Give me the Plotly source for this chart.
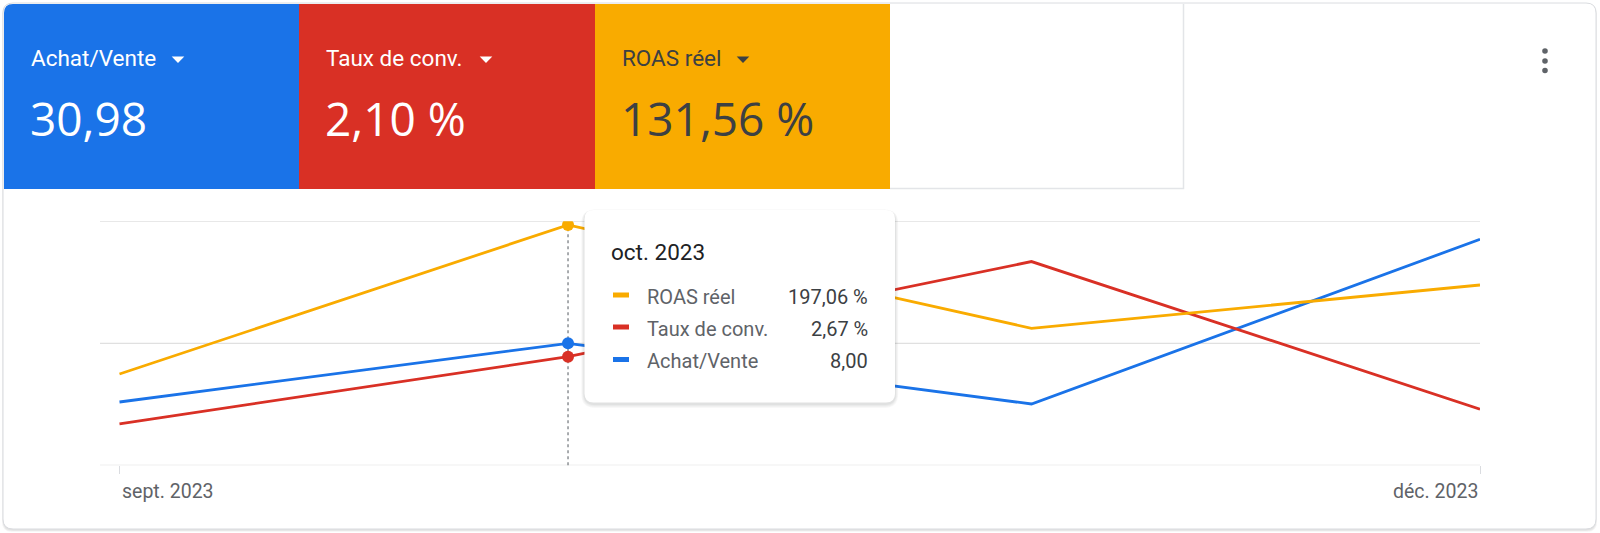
import plotly.graph_objects as go
from datetime import datetime, timedelta

W, H = 1600, 533

# ---------------- data ----------------
months = ["2023-09-01", "2023-10-01", "2023-11-01", "2023-12-01"]
month_labels = ["sept. 2023", "oct. 2023", "nov. 2023", "déc. 2023"]
roas_reel = [74.8, 197.06, 112.3, 147.8]        # %
taux_conv = [1.02, 2.67, 5.01, 1.38]            # %
achat_vente = [4.15, 8.00, 4.02, 14.82]
grid_vals = [0, 8, 16]                          # on the Achat/Vente scale

kpi_names = ["Achat/Vente", "Taux de conv.", "ROAS réel"]
kpi_values = ["30,98", "2,10 %", "131,56 %"]
tooltip_names = ["ROAS réel", "Taux de conv.", "Achat/Vente"]
tooltip_values = ["197,06 %", "2,67 %", "8,00"]
hover_index = 1

# ---------------- style ----------------
BLUE = "#1a73e8"
RED = "#d93025"
YELLOW = "#f9ab00"
GRID = "#e0e0e0"
GREY_TXT = "#5f6368"
DARK_TXT = "#3c4043"


def P(x, y):
    return f"{x / W:.6f},{1 - y / H:.6f}"


def rr(x0, y0, x1, y1, r, tl=True, tr=True, br=True, bl=True):
    s = ["M" + P(x0 + (r if tl else 0), y0)]
    if tr:
        s += ["L" + P(x1 - r, y0), "Q" + P(x1, y0) + " " + P(x1, y0 + r)]
    else:
        s.append("L" + P(x1, y0))
    if br:
        s += ["L" + P(x1, y1 - r), "Q" + P(x1, y1) + " " + P(x1 - r, y1)]
    else:
        s.append("L" + P(x1, y1))
    if bl:
        s += ["L" + P(x0 + r, y1), "Q" + P(x0, y1) + " " + P(x0, y1 - r)]
    else:
        s.append("L" + P(x0, y1))
    if tl:
        s += ["L" + P(x0, y0 + r), "Q" + P(x0, y0) + " " + P(x0 + r, y0)]
    else:
        s.append("L" + P(x0, y0))
    return " ".join(s) + " Z"


def pshape(path, fill, line_color=None, line_width=0, layer="above"):
    return dict(type="path", xref="paper", yref="paper", path=path,
                fillcolor=fill, layer=layer,
                line=dict(color=line_color or "rgba(0,0,0,0)", width=line_width))


def ann(x, y, text, size, color, family="Roboto", xanchor="left", weight=None):
    f = dict(size=size, color=color, family=family)
    if weight:
        f["weight"] = weight
    return dict(xref="paper", yref="paper", x=x / W, y=1 - y / H, text=text,
                showarrow=False, xanchor=xanchor, yanchor="middle", font=f,
                borderpad=0)


fig = go.Figure()

series = [
    ("ROAS réel", roas_reel, YELLOW, "y3"),
    ("Taux de conv.", taux_conv, RED, "y2"),
    ("Achat/Vente", achat_vente, BLUE, "y"),
]
for name, vals, col, ax in series:
    fig.add_trace(go.Scatter(x=months, y=vals, mode="lines", name=name,
                             line=dict(color=col, width=2.8), yaxis=ax,
                             hoverinfo="skip"))
for name, vals, col, ax in series:
    fig.add_trace(go.Scatter(x=[months[hover_index]], y=[vals[hover_index]],
                             mode="markers", marker=dict(color=col, size=12),
                             yaxis=ax, hoverinfo="skip", showlegend=False))

# x range so that sept sits a little right of the grid start
sep = datetime.fromisoformat(months[0])
dec = datetime.fromisoformat(months[-1])
span = (dec - sep).total_seconds()
start = sep - timedelta(seconds=span * 19.5 / 1360.5)

ydom = [1 - 465.3 / H, 1 - 221.3 / H]

shapes = []
# card shadow + card
for i, a in enumerate([0.05, 0.05, 0.06]):
    shapes.append(pshape(rr(3 - i * 0.5, 3 + i * 0.3, 1596 + i * 0.5, 529 + 1.2 + i * 0.8, 10),
                         f"rgba(60,64,67,{a})", layer="below"))
shapes.append(pshape(rr(3, 3, 1596, 529, 10), "white", "#dadce0", 1, layer="below"))

# horizontal grid lines (Achat/Vente scale)
for gv in grid_vals:
    shapes.append(dict(type="line", xref="paper", yref="y", x0=100 / W, x1=1480 / W,
                       y0=gv, y1=gv, line=dict(color=GRID, width=1.3), layer="below"))

# KPI tiles
tile_x = [4, 299, 595, 890]
shapes.append(pshape(rr(tile_x[0], 4, tile_x[1], 189, 9, tl=True, tr=False, br=False, bl=False), BLUE))
shapes.append(pshape(rr(tile_x[1], 4, tile_x[2], 189, 0, False, False, False, False), RED))
shapes.append(pshape(rr(tile_x[2], 4, tile_x[3], 189, 0, False, False, False, False), YELLOW))
# empty white tile border (right + bottom)
shapes.append(dict(type="path", xref="paper", yref="paper",
                   path="M" + P(890, 188.5) + " L" + P(1183.5, 188.5) + " L" + P(1183.5, 4),
                   line=dict(color="#e3e5e8", width=1.5)))

# dropdown triangles
tri_cx = [178, 486, 743]
tri_col = ["white", "white", DARK_TXT]
for cx, c in zip(tri_cx, tri_col):
    shapes.append(pshape("M" + P(cx - 6.3, 56.5) + " L" + P(cx + 6.3, 56.5) + " L" + P(cx, 63) + " Z", c))

# three-dot menu
for cy in [51, 61, 70.5]:
    shapes.append(dict(type="circle", xref="paper", yref="paper",
                       x0=(1545 - 2.8) / W, x1=(1545 + 2.8) / W,
                       y0=1 - (cy + 2.8) / H, y1=1 - (cy - 2.8) / H,
                       fillcolor=GREY_TXT, line=dict(width=0)))

# hover dotted line
shapes.append(dict(type="line", xref="x", yref="paper",
                   x0=months[hover_index], x1=months[hover_index],
                   y0=ydom[0], y1=ydom[1],
                   line=dict(color="#70757a", width=1.2, dash="dot"), layer="below"))

# tooltip box with shadow
tx0, ty0, tx1, ty1 = 584.5, 210, 895, 402.5
for i, a in enumerate([0.035, 0.035, 0.04, 0.05]):
    g = 4 - i
    shapes.append(pshape(rr(tx0 - g * 0.8, ty0 - g * 0.4 + 1, tx1 + g * 0.8, ty1 + g + 1.5, 10 + g),
                         f"rgba(60,64,67,{a})"))
shapes.append(pshape(rr(tx0, ty0, tx1, ty1, 9), "white"))

row_y = [296.5, 328.5, 361]
dash_cols = [YELLOW, RED, BLUE]
for yy, c in zip(row_y, dash_cols):
    shapes.append(dict(type="line", xref="paper", yref="paper",
                       x0=613 / W, x1=629 / W, y0=1 - (yy - 1.5) / H, y1=1 - (yy - 1.5) / H,
                       line=dict(color=c, width=5)))

annotations = []
text_cols = ["white", "white", DARK_TXT]
for i in range(3):
    annotations.append(ann(tile_x[i] + 26, 57.5, kpi_names[i], 22.5, text_cols[i]))
    annotations.append(ann(tile_x[i] + 25, 118.5, kpi_values[i], 46, text_cols[i], family="Open Sans"))

annotations.append(ann(610, 252, month_labels[hover_index], 22.5, "#202124"))
for yy, n, v in zip(row_y, tooltip_names, tooltip_values):
    annotations.append(ann(645.5, yy, n, 20, GREY_TXT))
    annotations.append(ann(868.5, yy, v, 20, DARK_TXT, xanchor="right"))

# x tick labels (first & last month)
annotations.append(dict(xref="x", yref="paper", x=months[0], y=1 - 491 / H,
                        text=month_labels[0], showarrow=False, xanchor="left",
                        yanchor="middle", font=dict(size=19.5, color=GREY_TXT, family="Roboto")))
annotations.append(dict(xref="x", yref="paper", x=months[-1], y=1 - 491 / H,
                        text=month_labels[-1], showarrow=False, xanchor="right",
                        yanchor="middle", font=dict(size=19.5, color=GREY_TXT, family="Roboto")))

fig.update_layout(
    width=W, height=H,
    margin=dict(l=0, r=0, t=0, b=0),
    paper_bgcolor="white",
    plot_bgcolor="rgba(0,0,0,0)",
    showlegend=False,
    hovermode=False,
    xaxis=dict(type="date", domain=[100 / W, 1480 / W],
               range=[start, dec], showgrid=False, zeroline=False, showline=False,
               tickvals=[months[0], months[-1]], ticks="outside", ticklen=8,
               tickcolor="#dadce0", tickwidth=1, showticklabels=False, fixedrange=True),
    yaxis=dict(domain=ydom, range=[0, 16], showgrid=False, zeroline=False,
               showticklabels=False, ticks="", showline=False, fixedrange=True),
    yaxis2=dict(domain=ydom, range=[0, 6], overlaying="y", showgrid=False,
                zeroline=False, showticklabels=False, ticks="", fixedrange=True),
    yaxis3=dict(domain=ydom, range=[0, 200], overlaying="y", showgrid=False,
                zeroline=False, showticklabels=False, ticks="", fixedrange=True),
    shapes=shapes,
    annotations=annotations,
)

fig.write_html("out.html", config=dict(displayModeBar=False))
